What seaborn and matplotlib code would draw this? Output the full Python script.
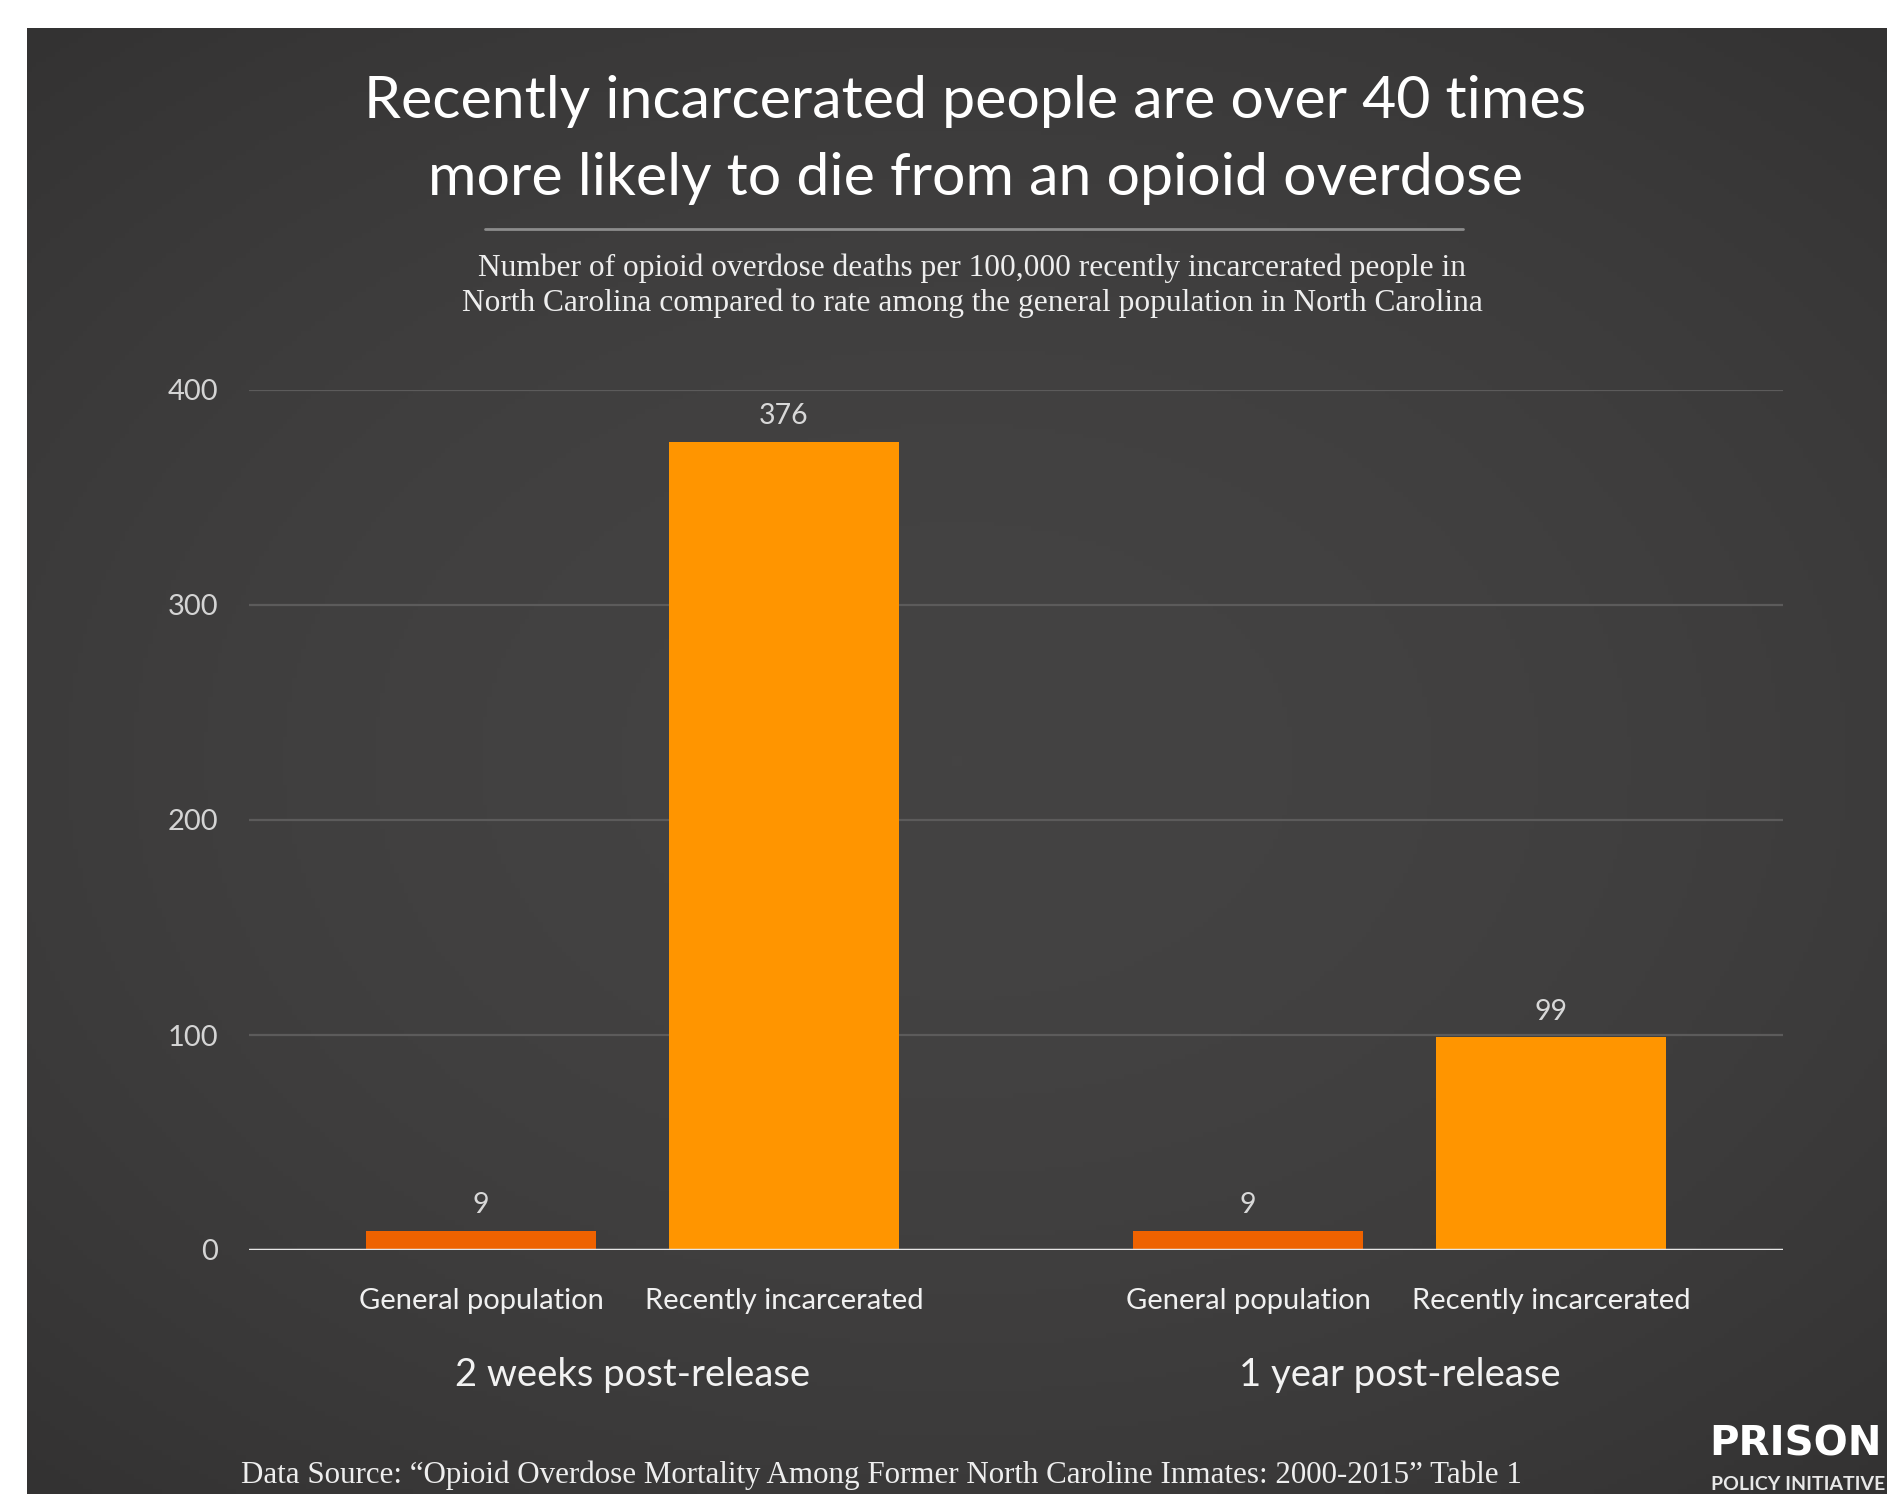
import numpy as np
import pandas as pd
import matplotlib
matplotlib.use("Agg")
import matplotlib.pyplot as plt
import seaborn as sns
from matplotlib.lines import Line2D

# ---- data ----
periods = ["2 weeks post-release", "1 year post-release"]
groups = ["General population", "Recently incarcerated"]
general_rates = [9, 9]
incarcerated_rates = [376, 99]
y_ticks = [0, 100, 200, 300, 400]

title = "Recently incarcerated people are over 40 times\nmore likely to die from an opioid overdose"
subtitle = ("Number of opioid overdose deaths per 100,000 recently incarcerated people in\n"
            "North Carolina compared to rate among the general population in North Carolina")
source = "Data Source: \u201cOpioid Overdose Mortality Among Former North Caroline Inmates: 2000-2015\u201d Table 1"

df = pd.DataFrame({
    "period": periods * 2,
    "group": [groups[0]] * 2 + [groups[1]] * 2,
    "rate": general_rates + incarcerated_rates,
})

sns.set_theme(style="dark")
plt.rcParams["font.family"] = ["Lato", "DejaVu Sans"]

W, H = 1887, 1494
fig = plt.figure(figsize=(W / 100, H / 100), dpi=100, facecolor="white")

# dark background panel with soft vignette
bg = fig.add_axes([27 / W, 0, 1 - 27 / W, 1 - 28 / H])
yy, xx = np.mgrid[-1:1:300j, -1:1:400j]
r = np.sqrt((xx * 0.9) ** 2 + (yy * 1.0) ** 2)
shade = np.clip(1 - 0.35 * r ** 2, 0, 1)
c_edge = np.array([0x33, 0x32, 0x32]) / 255
c_mid = np.array([0x44, 0x43, 0x43]) / 255
img = c_edge[None, None, :] + (c_mid - c_edge)[None, None, :] * ((shade - shade.min()) / (shade.max() - shade.min()))[:, :, None]
bg.imshow(img, aspect="auto", extent=[0, 1, 0, 1])
bg.set_axis_off()

ax = fig.add_axes([249 / W, 1 - 1250 / H, (1783 - 249) / W, (1250 - 390) / H])
ax.set_facecolor("none")

palette = {groups[0]: "#ee6200", groups[1]: "#ff9500"}
sns.barplot(data=df, x="period", y="rate", hue="group", order=periods, hue_order=groups,
            palette=palette, width=0.79, gap=0.24, saturation=1, legend=False, ax=ax,
            linewidth=0, edgecolor="none")

ax.set_ylim(0, 400)
ax.set_xlim(-0.5, 1.5)
ax.set_yticks(y_ticks)
ax.set_yticklabels([str(t) for t in y_ticks], color="#d4d4d4", fontsize=21)
ax.tick_params(axis="y", length=0, pad=22)
ax.tick_params(axis="x", length=0, pad=77)
ax.set_xticks(range(len(periods)))
ax.set_xticklabels(periods, color="#f2f2f2", fontsize=27.5)
ax.set_xlabel("")
ax.set_ylabel("")
for s in ax.spines.values():
    s.set_visible(False)
ax.yaxis.grid(True, color="#5c5b5b", lw=1.6)
ax.xaxis.grid(False)
ax.set_axisbelow(True)
ax.axhline(0, color="#e6e6e6", lw=2.5, zorder=5)

for i, cont in enumerate(ax.containers):
    ax.bar_label(cont, labels=[f"{v:.0f}" for v in cont.datavalues], padding=9,
                 color="#d8d8d8", fontsize=20.5)
    for p in cont.patches:
        cx = p.get_x() + p.get_width() / 2
        ax.annotate(groups[i], xy=(cx, 0), xycoords="data",
                    xytext=(0, -37), textcoords="offset points", ha="center", va="center",
                    color="#f0f0f0", fontsize=21, annotation_clip=False)

fig.text(975 / W, 1 - 140 / H, title, ha="center", va="center", color="white",
         fontsize=42.5, linespacing=1.55)
fig.add_artist(Line2D([485 / W, 1463 / W], [1 - 229 / H] * 2, color="#8c8c8c", lw=2))
fig.text(972 / W, 1 - 286 / H, subtitle, ha="center", va="center", color="#eeeeee",
         fontsize=22.6, family=["Liberation Serif", "DejaVu Serif"], linespacing=1.25)
fig.text(241 / W, 1 - 1475 / H, source, ha="left", va="center", color="#eeeeee",
         fontsize=22.3, family=["Liberation Serif", "DejaVu Serif"])

fig.text(1709 / W, 1 - 1444 / H, "PRISON", ha="left", va="center", color="white",
         fontsize=29, fontweight="bold", family=["DejaVu Sans"])
fig.text(1711 / W, 1 - 1484 / H, "POLICY INITIATIVE", ha="left", va="center", color="#e8e8e8",
         fontsize=14, fontweight="bold")

fig.savefig("out.png", dpi=100, facecolor=fig.get_facecolor())
